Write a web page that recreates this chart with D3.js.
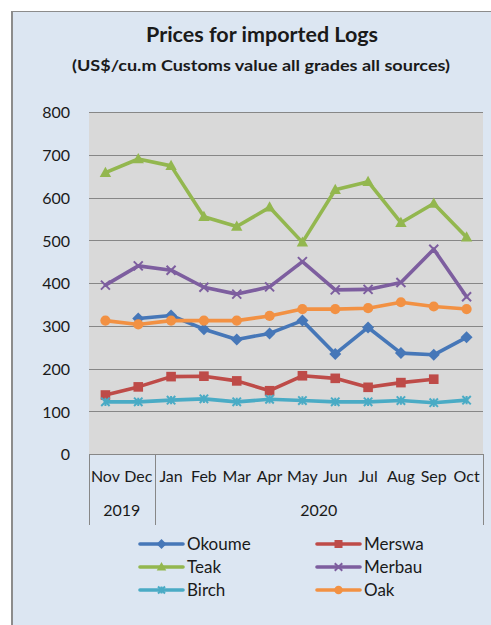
<!DOCTYPE html>
<html>
<head>
<meta charset="utf-8">
<script src="https://cdn.jsdelivr.net/npm/d3@7"></script>
<style>
  html, body { margin: 0; padding: 0; background: #ffffff; }
  svg { display: block; }
  text { font-family: Lato, "Open Sans", sans-serif; fill: #1a1a1a; }
</style>
</head>
<body>
<svg id="chart" width="491" height="625"></svg>
<script>
// Months shown on the category axis and the year groups beneath them
const months = ["Nov", "Dec", "Jan", "Feb", "Mar", "Apr", "May", "Jun", "Jul", "Aug", "Sep", "Oct"];
const yearGroups = [
  { label: "2019", from: "Nov", to: "Dec" },
  { label: "2020", from: "Jan", to: "Oct" }
];
const yTicks = [0, 100, 200, 300, 400, 500, 600, 700, 800];

// Price series, US$ per cubic metre (null = no data for that month)
const okoume = [null, 317, 324, 292, 268, 282, 312, 234, 296, 236, 232, 273];
const merswa = [138, 157, 181, 182, 171, 148, 183, 177, 156, 167, 175, null];
const teak   = [658, 690, 674, 555, 532, 577, 495, 618, 637, 541, 586, 507];
const merbau = [395, 440, 430, 390, 374, 391, 450, 384, 385, 401, 479, 368];
const birch  = [122, 122, 126, 129, 122, 128, 125, 122, 122, 125, 120, 126];
const oak    = [312, 303, 312, 312, 312, 323, 339, 339, 341, 355, 345, 339];

const series = [
  { name: "Okoume", values: okoume, color: "#4677b8", marker: "diamond" },
  { name: "Merswa", values: merswa, color: "#be4b48", marker: "square" },
  { name: "Teak",   values: teak,   color: "#93b74f", marker: "triangle" },
  { name: "Merbau", values: merbau, color: "#7d5e9f", marker: "cross" },
  { name: "Birch",  values: birch,  color: "#4aabc5", marker: "star" },
  { name: "Oak",    values: oak,    color: "#f29143", marker: "circle" }
];

const svg = d3.select("#chart");

// Chart frame
svg.append("rect").attr("x", 12).attr("y", 11).attr("width", 479).attr("height", 614)
  .attr("fill", "#dce6f2");
svg.append("line").attr("x1", 12).attr("x2", 491).attr("y1", 11.5).attr("y2", 11.5)
  .attr("stroke", "#8c8c8c").attr("stroke-width", 1);
svg.append("line").attr("x1", 12).attr("x2", 12).attr("y1", 11).attr("y2", 625)
  .attr("stroke", "#8c8c8c").attr("stroke-width", 2);

// Titles
svg.append("text").attr("x", 262).attr("y", 42).attr("text-anchor", "middle")
  .attr("font-size", 21).attr("font-weight", "bold")
  .attr("textLength", 232).attr("lengthAdjust", "spacingAndGlyphs")
  .text("Prices for imported Logs");
svg.append("text").attr("x", 261).attr("y", 71).attr("text-anchor", "middle")
  .attr("font-size", 16).attr("font-weight", "bold")
  .attr("textLength", 378).attr("lengthAdjust", "spacingAndGlyphs")
  .text("(US$/cu.m Customs value all grades all sources)");

// Plot area
const plot = { left: 89, right: 483, top: 112, bottom: 454 };
const x = d3.scaleBand().domain(months).range([plot.left, plot.right]);
const y = d3.scaleLinear().domain([0, 800]).range([plot.bottom, plot.top]);

svg.append("rect").attr("x", plot.left).attr("y", plot.top)
  .attr("width", plot.right - plot.left).attr("height", plot.bottom - plot.top)
  .attr("fill", "#d9d9d9");

// Horizontal gridlines
svg.append("g").selectAll("line").data(yTicks.filter(d => d > 0)).join("line")
  .attr("x1", plot.left).attr("x2", plot.right)
  .attr("y1", d => Math.round(y(d)) + 0.5).attr("y2", d => Math.round(y(d)) + 0.5)
  .attr("stroke", "#878787").attr("stroke-width", 1);

// Value axis labels
const yAxis = d3.axisLeft(y).tickValues(yTicks).tickSize(0).tickPadding(19);
const yg = svg.append("g").attr("transform", `translate(${plot.left},0)`).call(yAxis);
yg.select(".domain").remove();
yg.selectAll("text").attr("font-size", 16).style("font-family", "Lato, sans-serif")
  .attr("fill", "#1a1a1a").attr("dy", "0.36em");

// Category axis: baseline, month labels, year groups and dividers
const axisBottom = 525;
svg.append("line").attr("x1", plot.left).attr("x2", plot.right)
  .attr("y1", plot.bottom + 0.5).attr("y2", plot.bottom + 0.5)
  .attr("stroke", "#878787");
const xAxis = d3.axisBottom(x).tickSize(0).tickPadding(17);
const xg = svg.append("g").attr("transform", `translate(0,${plot.bottom})`).call(xAxis);
xg.select(".domain").remove();
xg.selectAll("text").attr("font-size", 16).style("font-family", "Lato, sans-serif")
  .attr("fill", "#1a1a1a");

const dividers = [x(yearGroups[0].from), x(yearGroups[1].from), x(yearGroups[1].to) + x.bandwidth()];
svg.append("g").selectAll("line").data(dividers).join("line")
  .attr("x1", d => Math.round(d) + 0.5).attr("x2", d => Math.round(d) + 0.5)
  .attr("y1", plot.bottom).attr("y2", axisBottom)
  .attr("stroke", "#878787");

svg.append("g").selectAll("text").data(yearGroups).join("text")
  .attr("x", d => (x(d.from) + x(d.to) + x.bandwidth()) / 2)
  .attr("y", 516).attr("text-anchor", "middle").attr("font-size", 16)
  .text(d => d.label);

// Marker shapes
function drawMarker(g, type, color, size) {
  const s = size;
  if (type === "diamond") {
    g.append("path").attr("d", `M0,${-s}L${s},0L0,${s}L${-s},0Z`).attr("fill", color);
  } else if (type === "square") {
    g.append("rect").attr("x", -s * 0.8).attr("y", -s * 0.8).attr("width", s * 1.6).attr("height", s * 1.6)
      .attr("fill", color);
  } else if (type === "triangle") {
    g.append("path").attr("d", `M0,${-s}L${s * 0.95},${s * 0.7}L${-s * 0.95},${s * 0.7}Z`).attr("fill", color);
  } else if (type === "circle") {
    g.append("circle").attr("r", s * 0.85).attr("fill", color);
  } else if (type === "cross") {
    const a = s * 0.75;
    g.append("path").attr("d", `M${-a},${-a}L${a},${a}M${-a},${a}L${a},${-a}`)
      .attr("stroke", color).attr("stroke-width", 2).attr("fill", "none");
  } else if (type === "star") {
    const a = s * 0.7;
    g.append("path").attr("d", `M${-a},${-a}L${a},${a}M${-a},${a}L${a},${-a}M0,${-a}L0,${a}`)
      .attr("stroke", color).attr("stroke-width", 2).attr("fill", "none");
  }
}

// Lines and markers for each wood type
const cx = m => x(m) + x.bandwidth() / 2;
const line = d3.line()
  .defined(d => d.v != null)
  .x(d => cx(d.m)).y(d => y(d.v));

series.forEach(s => {
  const pts = months.map((m, i) => ({ m, v: s.values[i] }));
  svg.append("path").datum(pts).attr("d", line)
    .attr("fill", "none").attr("stroke", s.color).attr("stroke-width", 3.6)
    .attr("stroke-linejoin", "round").attr("stroke-linecap", "round");
  const mg = svg.append("g");
  pts.filter(p => p.v != null).forEach(p => {
    const g = mg.append("g").attr("transform", `translate(${cx(p.m)},${y(p.v)})`);
    drawMarker(g, s.marker, s.color, 6);
  });
});

// Legend, two columns
const legendRows = [544, 567, 590];
const legendCols = [140, 317];
series.forEach((s, i) => {
  const lx = legendCols[i % 2];
  const ly = legendRows[Math.floor(i / 2)];
  const g = svg.append("g");
  g.append("line").attr("x1", lx).attr("x2", lx + 43).attr("y1", ly).attr("y2", ly)
    .attr("stroke", s.color).attr("stroke-width", 3.6).attr("stroke-linecap", "round");
  const mg = g.append("g").attr("transform", `translate(${lx + 21.5},${ly})`);
  drawMarker(mg, s.marker, s.color, 5);
  g.append("text").attr("x", lx + 47).attr("y", ly).attr("dy", "0.36em")
    .attr("font-size", 17).text(s.name);
});
</script>
</body>
</html>
